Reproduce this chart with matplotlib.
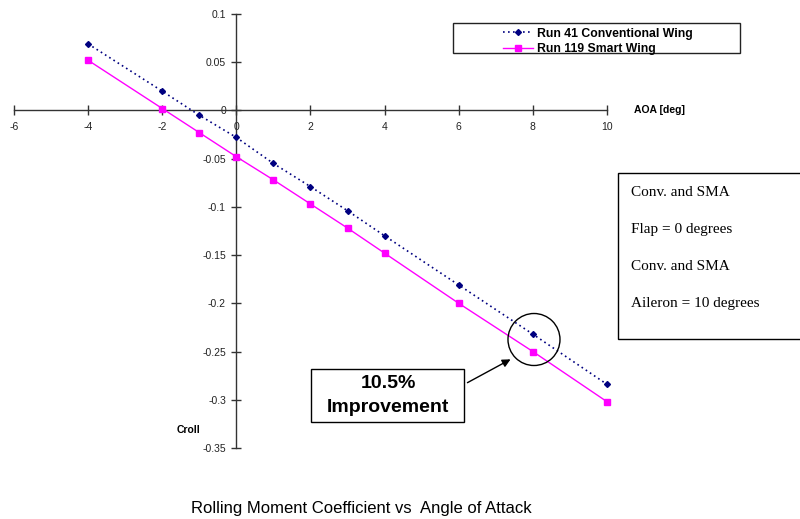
import matplotlib
matplotlib.use("Agg")
import matplotlib.pyplot as plt
from matplotlib.patches import Rectangle, Ellipse

plt.rcParams['font.family'] = ['Liberation Sans', 'DejaVu Sans']

aoa = [-4, -2, -1, 0, 1, 2, 3, 4, 6, 8, 10]
run41_conv = [0.069, 0.020, -0.005, -0.028, -0.055, -0.079, -0.104, -0.130, -0.181, -0.232, -0.284]
run119_smart = [0.052, 0.002, -0.023, -0.048, -0.072, -0.097, -0.122, -0.148, -0.200, -0.250, -0.302]
xticks = [-6, -4, -2, 0, 2, 4, 6, 8, 10]
yticks = [0.1, 0.05, 0, -0.05, -0.1, -0.15, -0.2, -0.25, -0.3, -0.35]
ytick_labels = ['0.1', '0.05', '0', '-0.05', '-0.1', '-0.15', '-0.2', '-0.25', '-0.3', '-0.35']
series_labels = ['Run 41 Conventional Wing', 'Run 119 Smart Wing']
title = 'Rolling Moment Coefficient vs  Angle of Attack'

W, H = 800, 519
fig = plt.figure(figsize=(8, 5.19), dpi=100)
fig.patch.set_facecolor('white')

def fx(px):
    return px / W

def fy(py):
    return 1 - py / H

# axes: x -6..10 -> px 14..607 ; y -0.35..0.1 -> px 448..14
ax = fig.add_axes([fx(14), fy(448), (607 - 14) / W, (448 - 14) / H])
ax.set_xlim(-6, 10)
ax.set_ylim(-0.35, 0.1)
ax.patch.set_alpha(0)

for s in ['top', 'right']:
    ax.spines[s].set_visible(False)
ax.spines['left'].set_position(('data', 0))
ax.spines['bottom'].set_position(('data', 0))
for s in ['left', 'bottom']:
    ax.spines[s].set_color('#333333')
    ax.spines[s].set_linewidth(1.0)

ax.set_xticks(xticks)
ax.set_xticklabels([str(t) for t in xticks])
ax.set_yticks(yticks)
ax.set_yticklabels(ytick_labels)
ax.tick_params(axis='both', direction='inout', length=7, width=1, color='#333333',
               labelsize=7.5, labelcolor='#222222')
ax.tick_params(axis='x', pad=5)
ax.tick_params(axis='y', pad=4)

l1, = ax.plot(aoa, run41_conv, color='#000080', linestyle=(0, (1, 2)), linewidth=1.2,
              marker='D', markersize=3.0, clip_on=False, zorder=3)
l2, = ax.plot(aoa, run119_smart, color='#FF00FF', linestyle='-', linewidth=1.0,
              marker='s', markersize=4.5, clip_on=False, zorder=3)

# axis labels
fig.text(fx(634), fy(110), 'AOA [deg]', fontsize=7.5, fontweight='bold', ha='left', va='center')
fig.text(fx(177), fy(430), 'Croll', fontsize=7.5, fontweight='bold', ha='left', va='center')

# legend
leg = fig.legend([l1, l2], series_labels, loc='upper left',
                 bbox_to_anchor=(fx(494), fy(19)), frameon=False,
                 prop={'weight': 'bold', 'size': 8.8}, handlelength=2.5,
                 handletextpad=0.3, labelspacing=0.3, borderpad=0.2)
fig.patches.append(Rectangle((fx(453), fy(53)), fx(740 - 453), (53 - 23) / H,
                             transform=fig.transFigure, fill=False,
                             edgecolor='#222222', linewidth=1.0))

# right text box
fig.patches.append(Rectangle((fx(618), fy(338.5)), fx(800 - 618 + 5), (338.5 - 172.5) / H,
                             transform=fig.transFigure, fill=True, facecolor='white',
                             edgecolor='black', linewidth=1.0))
for txt, py in [('Conv. and SMA', 193), ('Flap = 0 degrees', 230),
                ('Conv. and SMA', 267), ('Aileron = 10 degrees', 304)]:
    fig.text(fx(631), fy(py), txt, fontsize=11, family='Liberation Serif',
             ha='left', va='center')

# circle around x=8
ax.add_patch(Ellipse((8.03, -0.2375), 52 / 37.06, 52 / 964.4, fill=False,
                     edgecolor='black', linewidth=1.0, zorder=4))

# improvement box
fig.patches.append(Rectangle((fx(311), fy(422)), fx(464 - 311), (422 - 369) / H,
                             transform=fig.transFigure, fill=True, facecolor='white',
                             edgecolor='black', linewidth=1.0))
fig.text(fx(388), fy(383), '10.5%', fontsize=14, fontweight='bold', ha='center', va='center')
fig.text(fx(388), fy(408), 'Improvement', fontsize=14, fontweight='bold', ha='center', va='center')
ax.annotate('', xy=(513, H - 358), xycoords='figure pixels',
            xytext=(465, H - 384), textcoords='figure pixels',
            arrowprops=dict(arrowstyle='-|>', color='black', lw=1.0, mutation_scale=12))

fig.text(fx(361), fy(509), title, fontsize=12, ha='center', va='center')

fig.savefig('out.png', dpi=100)
